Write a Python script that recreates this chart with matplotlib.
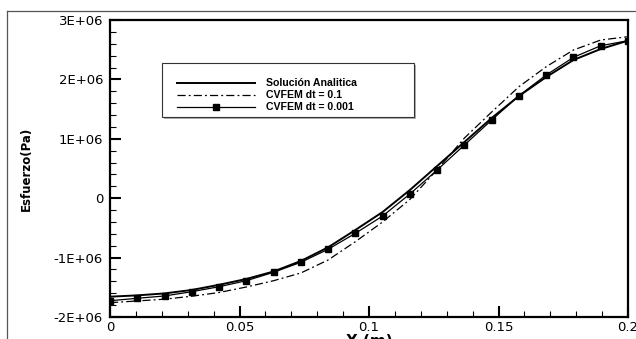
import matplotlib
matplotlib.use("Agg")
import matplotlib.pyplot as plt
import numpy as np
from matplotlib.patches import Rectangle
from matplotlib.lines import Line2D

# x nodes (m) and stress values (Pa)
x = np.linspace(0.0, 0.2, 20)
analitica = np.array([-1.658, -1.636, -1.603, -1.545, -1.458, -1.360, -1.234, -1.057, -0.827, -0.535,
                      -0.232, 0.138, 0.542, 0.946, 1.350, 1.720, 2.040, 2.327, 2.512, 2.652]) * 1e6
cvfem_01 = np.array([-1.759, -1.730, -1.700, -1.650, -1.588, -1.495, -1.389, -1.259, -1.040, -0.732,
                     -0.400, -0.020, 0.480, 1.013, 1.451, 1.877, 2.214, 2.495, 2.663, 2.719]) * 1e6
cvfem_0001 = np.array([-1.726, -1.685, -1.646, -1.574, -1.490, -1.389, -1.247, -1.079, -0.860, -0.591,
                       -0.300, 0.071, 0.475, 0.896, 1.316, 1.726, 2.074, 2.372, 2.567, 2.652]) * 1e6

labels = ["Solución Analitica", "CVFEM dt = 0.1", "CVFEM dt = 0.001"]
x_ticks = [0, 0.05, 0.1, 0.15, 0.2]
x_ticklabels = ["0", "0.05", "0.1", "0.15", "0.2"]
y_ticks = [-2e6, -1e6, 0, 1e6, 2e6, 3e6]
y_ticklabels = ["-2E+06", "-1E+06", "0", "1E+06", "2E+06", "3E+06"]

W, H = 636, 339
fig = plt.figure(figsize=(W / 100, H / 100), dpi=100)
ax = fig.add_axes([110 / W, (H - 317) / H, 518 / W, 297 / H])

ax.plot(x, analitica, color="black", lw=1.4, label=labels[0])
ax.plot(x, cvfem_01, color="black", lw=0.9, dashes=(6.5, 2.5, 1.5, 2.5), label=labels[1])
ax.plot(x, cvfem_0001, color="black", lw=0.9, marker="s", markersize=3.8, label=labels[2])

ax.set_xlim(0, 0.2)
ax.set_ylim(-2e6, 3e6)
ax.set_xticks(x_ticks)
ax.set_xticklabels(x_ticklabels)
ax.set_yticks(y_ticks)
ax.set_yticklabels(y_ticklabels)
ax.set_xticks(np.arange(0, 0.2001, 0.01), minor=True)
ax.set_yticks(np.arange(-2e6, 3.0001e6, 2e5), minor=True)

ax.tick_params(which="both", direction="in", top=False, right=False)
ax.tick_params(which="major", length=8, width=1.5, labelsize=9.5, pad=5)
ax.tick_params(which="minor", length=4.5, width=0.8)
ax.tick_params(axis="x", which="major", pad=3)
for lab in ax.get_xticklabels() + ax.get_yticklabels():
    lab.set_family("DejaVu Sans")
for sp in ax.spines.values():
    sp.set_linewidth(1.6)

ax.set_ylabel("Esfuerzo(Pa)", fontsize=8.5, fontweight="bold", family="DejaVu Sans", labelpad=15)
ax.set_xlabel("X (m)", fontsize=11, fontweight="bold", family="DejaVu Sans", labelpad=0)

# legend box with a light shadow
ax.add_patch(Rectangle((164 / W, (H - 119) / H), 252 / W, 54 / H, transform=fig.transFigure,
                       facecolor="#b0b0b0", edgecolor="none", clip_on=False, zorder=4))
ax.add_patch(Rectangle((162 / W, (H - 117) / H), 252 / W, 54 / H, transform=fig.transFigure,
                       facecolor="white", edgecolor="#333333", lw=0.8, clip_on=False, zorder=4))
leg = ax.legend(frameon=False, loc="upper left", bbox_to_anchor=(172 / W, 1 - 73 / H),
                bbox_transform=fig.transFigure, borderpad=0, handlelength=7.4, handletextpad=1.0,
                labelspacing=0.2, numpoints=1,
                prop=dict(family="Liberation Sans", weight="bold", size=7.6))
leg.set_zorder(5)

# outer frame of the exported page
fig.add_artist(Line2D([7 / W, 1], [1 - 11 / H, 1 - 11 / H], transform=fig.transFigure,
                      color="#555555", lw=0.9))
fig.add_artist(Line2D([7 / W, 7 / W], [0, 1 - 11 / H], transform=fig.transFigure,
                      color="#555555", lw=0.9))

fig.savefig("out.png", dpi=100)
